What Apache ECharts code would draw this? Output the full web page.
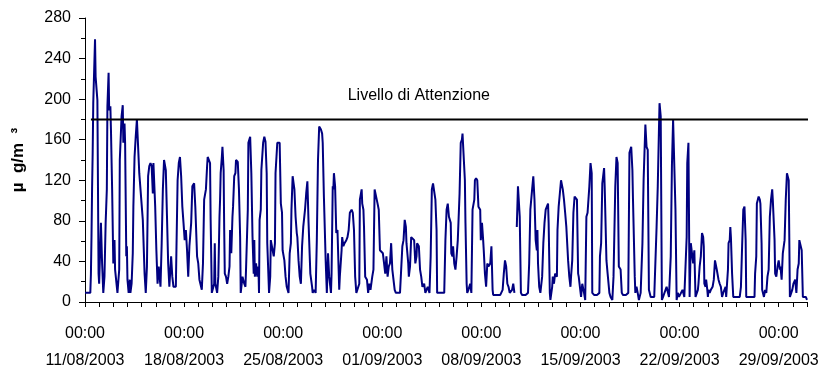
<!DOCTYPE html>
<html>
<head>
<meta charset="utf-8">
<script src="https://cdn.jsdelivr.net/npm/echarts@6/dist/echarts.min.js"></script>
<style>
html,body{margin:0;padding:0;background:#fff;}
#chart{width:825px;height:374px;}
</style>
</head>
<body>
<div id="chart"></div>
<script>
// Hourly ozone concentration (µg/m³), sampled as [hours since 11/08/2003 00:00, value]
const week1 = [[0,9],[9,9],[10,27],[11,64],[12,112],[13,147],[14,196],[17,259],[18,222],[21,199],[23,28],[24,18],[26,58],[27,78],[29,38],[31,9],[33,25],[35,78],[37,111],[38,193],[40,226],[41,189],[43,193],[44,170],[46,111],[48,38],[50,61],[51,32],[55,9],[58,32],[59,140],[62,183],[64,194],[65,157],[67,176],[68,157],[70,45],[71,55],[72,22],[74,9],[76,22],[77,9],[79,18],[81,48],[82,94],[84,143],[86,163],[88,180],[90,180],[92,127],[95,127],[98,81],[101,28],[103,9],[105,35],[107,124],[109,134],[111,137],[113,134],[115,107],[116,137],[119,94],[121,51],[123,18],[125,35],[128,15],[130,58],[132,111],[134,140],[137,130],[139,84],[141,38],[143,15],[146,45],[148,25],[150,15],[154,15],[155,51],[157,120],[159,137],[161,143],[163,124],[165,94],[167,78]];
const week2 = [[169,61],[171,71],[173,51],[175,25],[177,55],[180,78],[182,114],[185,117],[187,94],[190,45],[192,38],[194,22],[198,12],[200,38],[202,101],[205,111],[207,134],[208,143],[212,137],[213,81],[215,9],[217,9],[219,18],[220,58],[221,18],[224,9],[226,25],[228,84],[229,101],[230,127],[232,143],[233,153],[235,130],[236,71],[237,28],[239,25],[241,18],[243,25],[245,35],[246,71],[248,48],[250,84],[251,94],[253,124],[255,127],[256,140],[259,138],[261,111],[263,64],[264,9],[267,25],[269,25],[270,18],[272,15],[273,32],[276,91],[277,157],[280,163],[282,127],[284,64],[286,28],[287,61],[288,25],[290,38],[292,25],[294,35],[295,9],[296,81],[298,91],[299,130],[302,157],[304,163],[306,158],[308,127],[309,58],[312,9],[314,25],[315,61],[317,61],[320,45],[322,58],[323,127],[326,157],[328,158],[330,157],[332,97],[334,88],[335,51]];
const week3 = [[338,41],[340,25],[342,15],[345,9],[347,48],[349,58],[350,91],[352,124],[355,111],[357,84],[359,68],[360,64],[362,41],[364,25],[366,18],[368,55],[370,74],[373,91],[375,107],[377,119],[379,78],[382,28],[385,15],[386,9],[388,12],[391,9],[393,61],[395,140],[397,173],[400,170],[402,166],[403,157],[405,104],[408,41],[410,9],[412,48],[414,25],[417,9],[418,28],[420,114],[421,111],[422,127],[424,114],[426,68],[428,71],[430,32],[431,12],[432,25],[435,51],[436,64],[438,55],[440,58],[443,61],[445,64],[447,71],[449,88],[452,91],[454,88],[456,71],[458,25],[460,9],[463,9],[465,18],[466,101],[469,111],[470,97],[472,91],[473,74],[475,25],[478,22],[480,9],[482,18],[484,12],[487,25],[489,32],[491,111],[493,111],[496,97],[498,91],[500,51],[502,51]];
const week4 = [[505,48],[507,38],[509,28],[511,45],[513,25],[515,35],[517,38],[519,58],[521,32],[523,32],[525,12],[527,9],[534,9],[538,55],[540,61],[542,81],[544,74],[545,58],[548,38],[549,25],[551,35],[553,64],[556,64],[558,61],[560,38],[562,45],[563,58],[566,55],[568,32],[570,25],[572,15],[575,18],[577,9],[579,12],[581,15],[584,9],[586,45],[588,111],[590,117],[593,117],[594,101],[596,71],[597,9],[601,9],[605,9],[609,9],[611,61],[613,91],[615,97],[617,84],[620,78],[621,48],[623,45],[624,55],[626,38],[628,32],[630,45],[632,61],[635,107],[637,157],[639,160],[640,166],[641,166],[644,120],[645,78],[647,18],[648,9],[650,12],[653,18],[655,9],[657,91],[660,101],[661,120],[663,122],[665,120],[667,94],[670,91],[671,61]];
const week5 = [[673,78],[675,61],[676,51],[678,28],[680,15],[682,38],[684,35],[687,38],[689,55],[691,12],[692,7],[699,7],[704,7],[708,12],[710,28],[712,41],[714,35],[716,18],[718,15],[720,9],[723,9],[724,12],[726,18],[728,9],[730,null],[732,74],[734,114],[736,114],[737,84],[739,9],[741,7],[747,7],[751,9],[753,38],[755,91],[758,111],[760,124],[762,101],[764,61],[766,51],[767,71],[768,38],[770,15],[772,9],[775,25],[777,58],[779,78],[781,91],[783,94],[785,97],[786,78],[788,9],[789,2],[792,15],[793,25],[795,18],[797,28],[800,25],[801,71],[803,94],[805,107],[807,120],[810,111],[812,101],[814,88],[816,74],[819,41],[821,25],[823,15],[824,25],[826,41],[828,88],[830,104],[832,104],[834,101],[836,28],[837,25],[839,15]];
const week6 = [[841,5],[843,18],[846,9],[848,2],[850,84],[852,88],[855,114],[857,137],[859,127],[860,9],[863,7],[868,7],[872,9],[873,45],[875,58],[877,117],[880,132],[881,114],[884,41],[886,28],[889,9],[891,5],[894,2],[896,25],[899,114],[901,143],[903,137],[905,35],[908,32],[910,9],[912,7],[917,7],[921,9],[923,147],[926,153],[928,130],[929,101],[932,25],[933,9],[935,15],[937,9],[939,2],[942,9],[945,58],[947,120],[950,175],[952,153],[954,150],[956,12],[959,5],[965,5],[969,74],[971,114],[973,170],[974,196],[976,183],[978,2],[980,5],[982,5],[986,15],[988,15],[990,5],[993,45],[995,134],[997,180],[999,181],[1000,181],[1001,91],[1003,2],[1005,9],[1007,5]];
const week7 = [[1009,5],[1013,12],[1016,5],[1020,64],[1021,137],[1023,157],[1025,5],[1027,58],[1029,58],[1031,38],[1033,51],[1035,5],[1036,5],[1039,12],[1040,18],[1042,35],[1044,45],[1046,68],[1048,64],[1049,55],[1050,18],[1052,15],[1053,22],[1055,12],[1056,5],[1057,12],[1059,9],[1061,12],[1064,15],[1066,22],[1068,41],[1069,38],[1071,32],[1074,22],[1076,18],[1078,15],[1080,5],[1082,9],[1084,12],[1086,15],[1087,5],[1090,32],[1091,58],[1093,61],[1094,74],[1095,64],[1097,28],[1099,5],[1105,5],[1110,5],[1112,15],[1114,55],[1116,91],[1118,94],[1119,94],[1120,61],[1121,5],[1128,5],[1135,5],[1136,28],[1138,45],[1139,97],[1142,104],[1144,101],[1145,97],[1147,58],[1148,12],[1151,5],[1153,12],[1155,9],[1157,25],[1159,32],[1161,84],[1163,101],[1165,111],[1166,101],[1169,61],[1170,28],[1172,25],[1174,35]];
const week8 = [[1176,41],[1178,32],[1179,35],[1181,22],[1183,48],[1186,61],[1188,101],[1190,127],[1191,127],[1193,120],[1195,5],[1197,5],[1199,12],[1201,18],[1204,22],[1206,9],[1208,32],[1210,38],[1211,61],[1214,61],[1215,51],[1217,5],[1219,5],[1222,5],[1224,2]];

// Threshold ("Livello di Attenzione")
const thresholdValue = 180;
const thresholdLabel = 'Livello di Attenzione';
const thresholdSpanHours = [10, 1235];
const thresholdLabelHour = 566;

// Axes
const startDateUTC = Date.UTC(2003, 7, 11);
const totalHours = 1224;
const labelEveryHours = 168;
const yTicks = [0, 40, 80, 120, 160, 200, 240, 280];
const yAxisTitle = 'µ  g/m  ³';

const ozone = [].concat(week1, week2, week3, week4, week5, week6, week7, week8)
  .map(p => [p[0], p[1] === null ? '-' : p[1]]);

function pad(n){ return (n < 10 ? '0' : '') + n; }
function dateLabel(h){
  const d = new Date(startDateUTC + h * 3600000);
  return pad(d.getUTCHours()) + ':' + pad(d.getUTCMinutes()) + '\n' +
    pad(d.getUTCDate()) + '/' + pad(d.getUTCMonth() + 1) + '/' + d.getUTCFullYear();
}

const FONT = '"Liberation Sans", Arial, sans-serif';
const chart = echarts.init(document.getElementById('chart'), null, {renderer: 'canvas'});
chart.setOption({
  animation: false,
  backgroundColor: '#ffffff',
  grid: {left: 85, right: 18, top: 18, bottom: 72, containLabel: false},
  xAxis: {
    type: 'value',
    min: 0,
    max: totalHours,
    interval: 24,
    axisLine: {show: true, lineStyle: {color: '#000', width: 1}},
    axisTick: {show: true, length: 5, lineStyle: {color: '#000', width: 1}},
    splitLine: {show: false},
    axisLabel: {
      margin: 18,
      color: '#000',
      fontFamily: FONT,
      fontSize: 16,
      lineHeight: 27,
      formatter: function(v){
        if (v % labelEveryHours !== 0 || v >= totalHours) return '';
        return dateLabel(v);
      }
    }
  },
  yAxis: {
    type: 'value',
    min: yTicks[0],
    max: yTicks[yTicks.length - 1],
    interval: yTicks[1] - yTicks[0],
    name: yAxisTitle,
    nameLocation: 'middle',
    nameRotate: 90,
    nameGap: 58,
    nameTextStyle: {fontFamily: FONT, fontSize: 17, fontWeight: 'bold', color: '#000'},
    axisLine: {show: true, lineStyle: {color: '#000', width: 1}},
    axisTick: {show: true, length: 6, lineStyle: {color: '#000', width: 1}},
    minorTick: {show: true, splitNumber: 2, length: 4, lineStyle: {color: '#000', width: 1}},
    splitLine: {show: false},
    axisLabel: {margin: 14, color: '#000', fontFamily: FONT, fontSize: 16}
  },
  series: [
    {
      name: 'O3',
      type: 'line',
      data: ozone,
      showSymbol: false,
      symbol: 'none',
      connectNulls: false,
      lineStyle: {color: '#000080', width: 2},
      z: 3
    },
    {
      name: thresholdLabel,
      type: 'line',
      data: thresholdSpanHours.map(h => [h, thresholdValue]),
      symbol: 'none',
      clip: false,
      silent: true,
      lineStyle: {color: '#000', width: 2},
      z: 4,
      markPoint: {
        symbol: 'circle',
        symbolSize: 0,
        silent: true,
        data: [{coord: [thresholdLabelHour, thresholdValue]}],
        label: {
          show: true,
          position: 'top',
          distance: 16,
          formatter: thresholdLabel,
          color: '#000',
          fontFamily: FONT,
          fontSize: 16
        }
      }
    }
  ]
});
</script>
</body>
</html>
